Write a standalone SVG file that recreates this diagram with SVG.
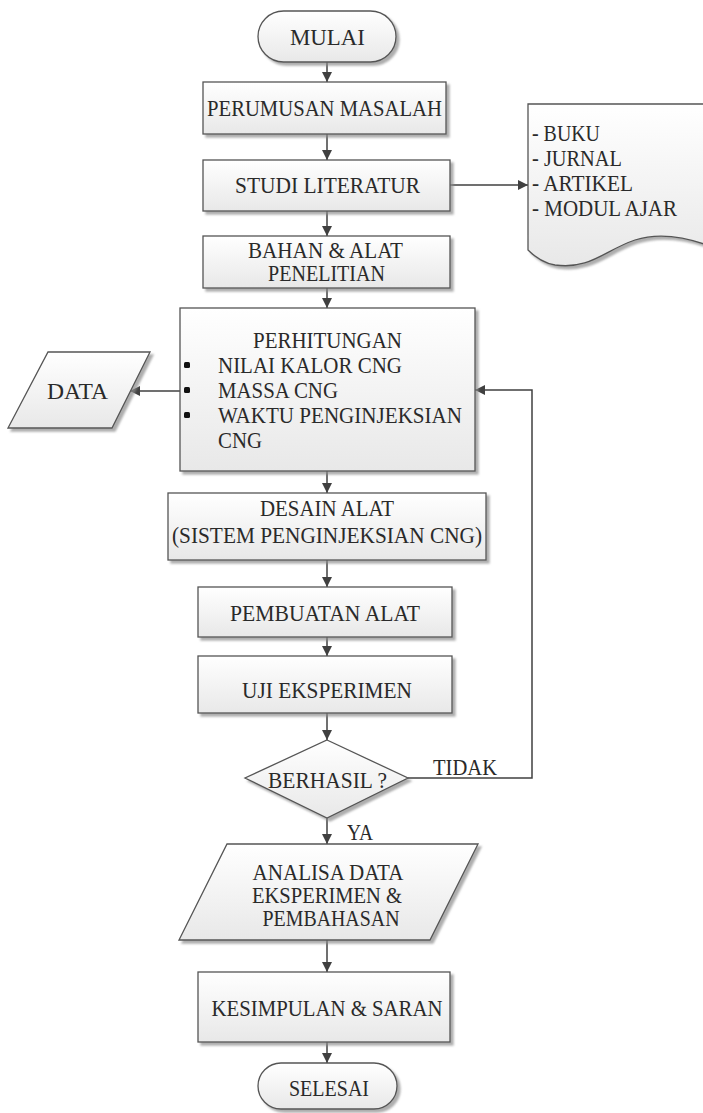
<svg xmlns="http://www.w3.org/2000/svg" width="703" height="1113" viewBox="0 0 703 1113">
<defs>
<linearGradient id="g" x1="0" y1="0" x2="0" y2="1"><stop offset="0" stop-color="#ffffff"/><stop offset="1" stop-color="#e8e8e8"/></linearGradient>
<filter id="sh" x="-10%" y="-10%" width="130%" height="130%"><feDropShadow dx="3" dy="3" stdDeviation="1.2" flood-color="#8a8a8a" flood-opacity="0.7"/></filter>
<marker id="ah" viewBox="0 0 10 10" refX="10" refY="5" markerWidth="10" markerHeight="10" markerUnits="userSpaceOnUse" orient="auto"><path d="M0,0 L10,5 L0,10 z" fill="#404040"/></marker>
<style>
.s{fill:url(#g);stroke:#555;stroke-width:1.3;filter:url(#sh)}
text{font-family:'Liberation Serif','Times New Roman',serif;font-size:22.5px;fill:#2a2a2a;text-anchor:middle}
text.l{text-anchor:start}
.c{fill:none;stroke:#404040;stroke-width:1.5;marker-end:url(#ah)}
</style>
</defs>
<g id="connectors">
<path class="c" d="M327,62 V82"/>
<path class="c" d="M327,134 V160"/>
<path class="c" d="M327,211 V236"/>
<path class="c" d="M327,288 V308"/>
<path class="c" d="M327,471 V493"/>
<path class="c" d="M327,560 V587"/>
<path class="c" d="M327,637 V656"/>
<path class="c" d="M327,713 V740"/>
<path class="c" d="M327,818 V844"/>
<path class="c" d="M327,940 V972"/>
<path class="c" d="M327,1042 V1063"/>
<path class="c" d="M450,185 H528"/>
<path class="c" d="M180,391 H130"/>
<path class="c" d="M408,778 H532 V390 H475"/>
</g>
<g id="mulai"><rect class="s" x="258" y="11" width="138" height="51" rx="25.5"/><text x="327.5" y="44.5" textLength="75" lengthAdjust="spacingAndGlyphs">MULAI</text></g>
<g id="perumusan"><rect class="s" x="203" y="82" width="243" height="52"/><text x="324.5" y="115.5" textLength="235" lengthAdjust="spacingAndGlyphs">PERUMUSAN MASALAH</text></g>
<g id="studi"><rect class="s" x="203" y="160" width="247" height="51"/><text x="327.5" y="192.5" textLength="185" lengthAdjust="spacingAndGlyphs">STUDI LITERATUR</text></g>
<g id="dokumen"><path class="s" d="M528,104 H715 V248 C690,238 660,232 635,240 C605,250 590,270 555,265 C543,263 535,257 528,250 Z"/>
<text class="l" x="532" y="140.5" textLength="68" lengthAdjust="spacingAndGlyphs">- BUKU</text><text class="l" x="532" y="165.5" textLength="90" lengthAdjust="spacingAndGlyphs">- JURNAL</text><text class="l" x="532" y="190.5" textLength="101" lengthAdjust="spacingAndGlyphs">- ARTIKEL</text><text class="l" x="532" y="215.5" textLength="145" lengthAdjust="spacingAndGlyphs">- MODUL AJAR</text></g>
<g id="bahan"><rect class="s" x="203" y="236" width="247" height="52"/><text x="325.5" y="257.5" textLength="155" lengthAdjust="spacingAndGlyphs">BAHAN &amp; ALAT</text><text x="326.5" y="280.5" textLength="117" lengthAdjust="spacingAndGlyphs">PENELITIAN</text></g>
<g id="perhitungan"><rect class="s" x="180" y="308" width="295" height="163"/>
<text x="327.5" y="347.5" textLength="149" lengthAdjust="spacingAndGlyphs">PERHITUNGAN</text>
<rect x="184" y="362" width="6" height="6" rx="1.5" fill="#111"/><rect x="184" y="387" width="6" height="6" rx="1.5" fill="#111"/><rect x="184" y="412" width="6" height="6" rx="1.5" fill="#111"/>
<text class="l" x="218" y="372.5" textLength="184" lengthAdjust="spacingAndGlyphs">NILAI KALOR CNG</text><text class="l" x="218" y="397.5" textLength="120" lengthAdjust="spacingAndGlyphs">MASSA CNG</text><text class="l" x="218" y="422.5" textLength="244" lengthAdjust="spacingAndGlyphs">WAKTU PENGINJEKSIAN</text><text class="l" x="218" y="447.5" textLength="44" lengthAdjust="spacingAndGlyphs">CNG</text></g>
<g id="data"><polygon class="s" points="48,352 150,352 112,428 8,428"/><text x="77.5" y="398.5" textLength="61" lengthAdjust="spacingAndGlyphs">DATA</text></g>
<g id="desain"><rect class="s" x="168" y="493" width="318" height="67"/><text x="327" y="515.5" textLength="134" lengthAdjust="spacingAndGlyphs">DESAIN ALAT</text><text x="327" y="542.5" textLength="310" lengthAdjust="spacingAndGlyphs">(SISTEM PENGINJEKSIAN CNG)</text></g>
<g id="pembuatan"><rect class="s" x="198" y="587" width="254" height="50"/><text x="325" y="620.5" textLength="190" lengthAdjust="spacingAndGlyphs">PEMBUATAN ALAT</text></g>
<g id="uji"><rect class="s" x="198" y="656" width="254" height="57"/><text x="327" y="697.5" textLength="170" lengthAdjust="spacingAndGlyphs">UJI EKSPERIMEN</text></g>
<g id="berhasil"><polygon class="s" points="327,740 408,778 327,818 245,778"/><text x="327.5" y="787.5" textLength="119" lengthAdjust="spacingAndGlyphs">BERHASIL ?</text></g>
<text x="465" y="774.5" textLength="64" lengthAdjust="spacingAndGlyphs">TIDAK</text>
<text class="l" x="347" y="839.5" textLength="26" lengthAdjust="spacingAndGlyphs">YA</text>
<g id="analisa"><polygon class="s" points="227,844 478,844 430,940 179,940"/><text x="328" y="879.5" textLength="151" lengthAdjust="spacingAndGlyphs">ANALISA DATA</text><text x="327" y="902.5" textLength="150" lengthAdjust="spacingAndGlyphs">EKSPERIMEN &amp;</text><text x="331" y="925.5" textLength="137" lengthAdjust="spacingAndGlyphs">PEMBAHASAN</text></g>
<g id="kesimpulan"><rect class="s" x="198" y="972" width="252" height="70"/><text x="327" y="1015.5" textLength="231" lengthAdjust="spacingAndGlyphs">KESIMPULAN &amp; SARAN</text></g>
<g id="selesai"><rect class="s" x="258" y="1063" width="139" height="46" rx="23"/><text x="329" y="1095.5" textLength="80" lengthAdjust="spacingAndGlyphs">SELESAI</text></g>
</svg>
